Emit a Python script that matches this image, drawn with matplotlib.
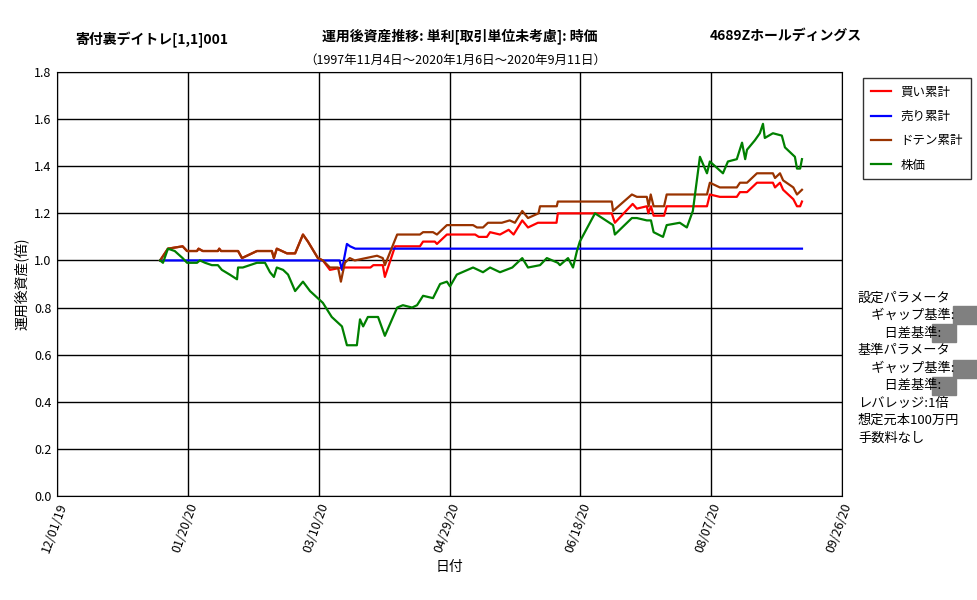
import matplotlib
matplotlib.use("Agg")
import matplotlib.pyplot as plt
from matplotlib.patches import Rectangle
import datetime as dt

plt.rcParams['font.family'] = ['Noto Sans CJK JP', 'DejaVu Sans']

base = dt.datetime(2019, 12, 1)

g_d = [39.4,40.5,42.4,45,48,49.7,53.5,54.6,56.6,59.2,61.5,63,66,68.8,69.2,71,76.4,79.5,81.4,82.9,84,86.4,88.3,91,94,96.7,101.6,105,108.9,110.8,114.6,115.8,117,118.8,122.7,125.3,130,132.2,135.7,137.6,139.9,143.7,146.4,149,150.2,152.8,159,162.8,165.5,169.3,174,177.8,180,184.6,187.2,191.4,192.2,195.3,197.2,198.7,199.8,205.6,212.5,213.2,219.7,221.6,225.4,227,228,231.6,233,238,240.7,243,245.7,248.4,249.5,254.5,256.4,259.8,261.8,263,263.7,266.7,268.6,269.8,270.5,273.6,277,278.2,282,282.8,284,284.7]
g_v = [1.0,0.99,1.05,1.04,1.01,0.99,0.99,1.0,0.99,0.98,0.98,0.96,0.94,0.92,0.97,0.97,0.99,0.99,0.95,0.93,0.97,0.96,0.94,0.87,0.91,0.87,0.82,0.76,0.72,0.64,0.64,0.75,0.72,0.76,0.76,0.68,0.80,0.81,0.80,0.81,0.85,0.84,0.90,0.91,0.89,0.94,0.97,0.95,0.97,0.95,0.97,1.01,0.97,0.98,1.01,0.99,0.98,1.01,0.97,1.04,1.08,1.20,1.15,1.11,1.18,1.18,1.17,1.17,1.12,1.10,1.15,1.16,1.14,1.21,1.44,1.37,1.42,1.37,1.42,1.43,1.50,1.43,1.47,1.51,1.54,1.58,1.52,1.54,1.53,1.48,1.44,1.39,1.39,1.43]

b_d = [39.4,42.4,48,49.7,53.5,54.1,55.7,61.5,62,62.7,69.2,70.7,72.6,76.4,82.1,82.9,84,87.9,91,94,95.9,99.7,101.6,104.3,107.4,108.5,110,111.9,113.8,122.3,124.5,125.3,130,138.7,139.9,143.7,145.2,149,159,160.5,162.8,164.7,170,173,175,177.8,180,184,184.6,191,191.4,212,212.5,219.7,221.6,225.4,226.1,226.9,228,232,233,248.4,249.5,253.3,259.8,261,263.7,267.5,273.6,274.4,276.3,277.5,281.4,282.8,284.7]
b_v = [1.0,1.05,1.06,1.04,1.04,1.05,1.04,1.04,1.05,1.04,1.04,1.01,1.02,1.04,1.04,1.01,1.05,1.03,1.03,1.11,1.08,1.01,1.0,0.97,0.97,0.91,0.99,1.01,1.0,1.02,1.01,0.98,1.11,1.11,1.12,1.12,1.11,1.15,1.15,1.14,1.14,1.16,1.16,1.17,1.16,1.21,1.18,1.20,1.23,1.23,1.25,1.25,1.21,1.28,1.27,1.27,1.23,1.28,1.23,1.23,1.28,1.28,1.33,1.31,1.31,1.33,1.33,1.37,1.37,1.35,1.37,1.34,1.31,1.28,1.30]

r_d = [39.4,42.4,48,49.7,53.5,54.1,55.7,61.5,62,62.7,69.2,70.7,72.6,76.4,82.1,82.9,84,87.9,91,94,95.9,99.7,101.6,104.3,108.9,119.8,120.9,124.5,125.3,129.2,138.7,139.9,144.4,145.2,149,159.8,161.2,164.3,165.5,169.3,172.6,174.5,177.8,180,183.8,190.9,191.4,212,213.2,220,221.6,225.4,226,227,228,232,233,248.4,249.5,253.3,259.8,261,263.7,267.5,273.6,274.4,276.3,277.5,281.4,282.8,284,284.7]
r_v = [1.0,1.05,1.06,1.04,1.04,1.05,1.04,1.04,1.05,1.04,1.04,1.01,1.02,1.04,1.04,1.01,1.05,1.03,1.03,1.11,1.08,1.01,1.0,0.96,0.97,0.97,0.98,0.98,0.93,1.06,1.06,1.08,1.08,1.07,1.11,1.11,1.10,1.10,1.12,1.11,1.13,1.11,1.17,1.14,1.16,1.16,1.20,1.20,1.16,1.24,1.22,1.23,1.20,1.23,1.19,1.19,1.23,1.23,1.28,1.27,1.27,1.29,1.29,1.33,1.33,1.31,1.33,1.30,1.26,1.23,1.23,1.25]

s_d = [39.4,108,108.9,110.8,112,114,284.7]
s_v = [1.0,1.0,0.96,1.07,1.06,1.05,1.05]

series = [("買い累計", r_d, r_v, "#ff0000"),
          ("売り累計", s_d, s_v, "#0000ff"),
          ("ドテン累計", b_d, b_v, "#993300"),
          ("株価", g_d, g_v, "#008000")]

tick_labels = ["12/01/19", "01/20/20", "03/10/20", "04/29/20", "06/18/20", "08/07/20", "09/26/20"]

fig = plt.figure(figsize=(9.77, 6), dpi=100)
ax = fig.add_axes([57/977, 104/600, 785/977, 424/600])
ax.set_zorder(1)
handles = []
for name, d, v, c in series:
    xs = [base + dt.timedelta(days=x) for x in d]
    h, = ax.plot(xs, v, color=c, lw=1.6, label=name)
    handles.append(h)

ticks = [dt.datetime.strptime(t, "%m/%d/%y") for t in tick_labels]
ax.set_xticks(ticks)
ax.set_xticklabels(tick_labels, rotation=70, ha='right', rotation_mode='anchor', fontsize=9)
ax.set_xlim(ticks[0], ticks[-1])
ax.set_ylim(0, 1.8)
ax.set_yticks([i * 0.2 for i in range(10)])
ax.set_yticklabels([f"{i*0.2:.1f}" for i in range(10)], fontsize=9)
ax.grid(True, color='black', lw=1)
ax.tick_params(length=0, pad=4)
for sp in ax.spines.values():
    sp.set_color('black')
ax.set_xlabel("日付", fontsize=10)
ax.set_ylabel("運用後資産(倍)", fontsize=10)

fig.text(75/977, 1 - 40/600, "寄付裏デイトレ[1,1]001", fontsize=10, fontweight='bold', va='center')
fig.text(460/977, 1 - 36/600, "運用後資産推移: 単利[取引単位未考慮]: 時価", fontsize=10, fontweight='bold', va='center', ha='center')
fig.text(455/977, 1 - 60/600, "（1997年11月4日～2020年1月6日～2020年9月11日）", fontsize=9, va='center', ha='center')
fig.text(710/977, 1 - 36/600, "4689Zホールディングス", fontsize=10, fontweight='bold', va='center')

leg = fig.legend(handles=handles, loc='upper left', bbox_to_anchor=(857/977, 1 - 72/600),
                 frameon=True, fancybox=False, edgecolor='black', fontsize=9,
                 handlelength=1.6, borderpad=0.6, labelspacing=0.9)
leg.get_frame().set_linewidth(1)

lines = ["設定パラメータ", "　ギャップ基準:", "　　日差基準:", "基準パラメータ", "　ギャップ基準:", "　　日差基準:",
         "レバレッジ:1倍", "想定元本100万円", "手数料なし"]
y0 = 298
for i, t in enumerate(lines):
    fig.text(858/977, 1 - (y0 + i * 17.5) / 600, t, fontsize=9.5, va='center')
for (x, y) in [(953, 306), (932, 324), (953, 360), (932, 377)]:
    fig.patches.append(Rectangle((x/977, 1 - (y + 18)/600), 24/977, 18/600,
                                 transform=fig.transFigure, color='#808080'))

fig.savefig("out.png", dpi=100)
